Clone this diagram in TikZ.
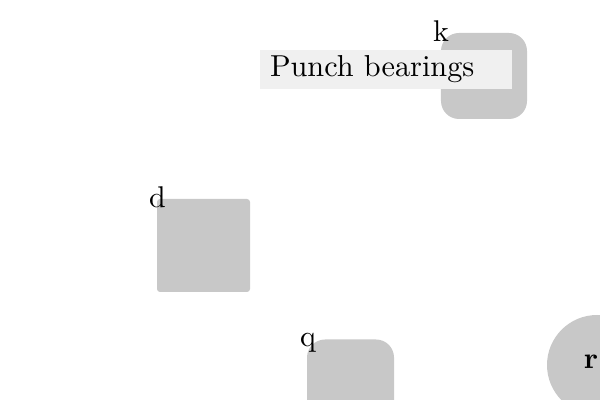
\documentclass[tikz,border=0pt]{standalone}
\definecolor{boxgray}{HTML}{C8C8C8}
\definecolor{lightbox}{HTML}{F0F0F0}
\begin{document}
\begin{tikzpicture}[x=0.33333pt,y=-0.33333pt,
  shapebox/.style={fill=boxgray,draw=none,inner sep=0pt},
  lbl/.style={inner sep=0pt,anchor=base,font=\fontsize{10}{12}\selectfont}]
\useasboundingbox (0,0) rectangle (600,400);
\node[shapebox,rounded corners=6pt,minimum width=28.67pt,minimum height=28.67pt] (k) at (484,76) {};
\node[fill=lightbox,draw=none,inner xsep=3.33pt,inner ysep=0pt,minimum height=13pt,text width=77.33pt,align=left,font=\fontsize{10.1}{12}\selectfont] (pb) at (386,69.5) {\raisebox{-0.8pt}{Punch bearings}};
\node[lbl] (kl) at (441,42) {k};
\node[shapebox,rounded corners=1pt,minimum width=31pt,minimum height=31pt] (d) at (203.5,245.5) {};
\node[lbl] (dl) at (157.5,208) {d};
\node[shapebox,rounded corners=6pt,minimum width=29pt,minimum height=33pt] (q) at (350.5,389) {};
\node[lbl] (ql) at (308,347) {q};
\node[shapebox,circle,minimum size=33.33pt] (r) at (597,365) {};
\node[lbl,font=\fontsize{10}{12}\selectfont\bfseries] (rl) at (591,369) {r};
\end{tikzpicture}
\end{document}
